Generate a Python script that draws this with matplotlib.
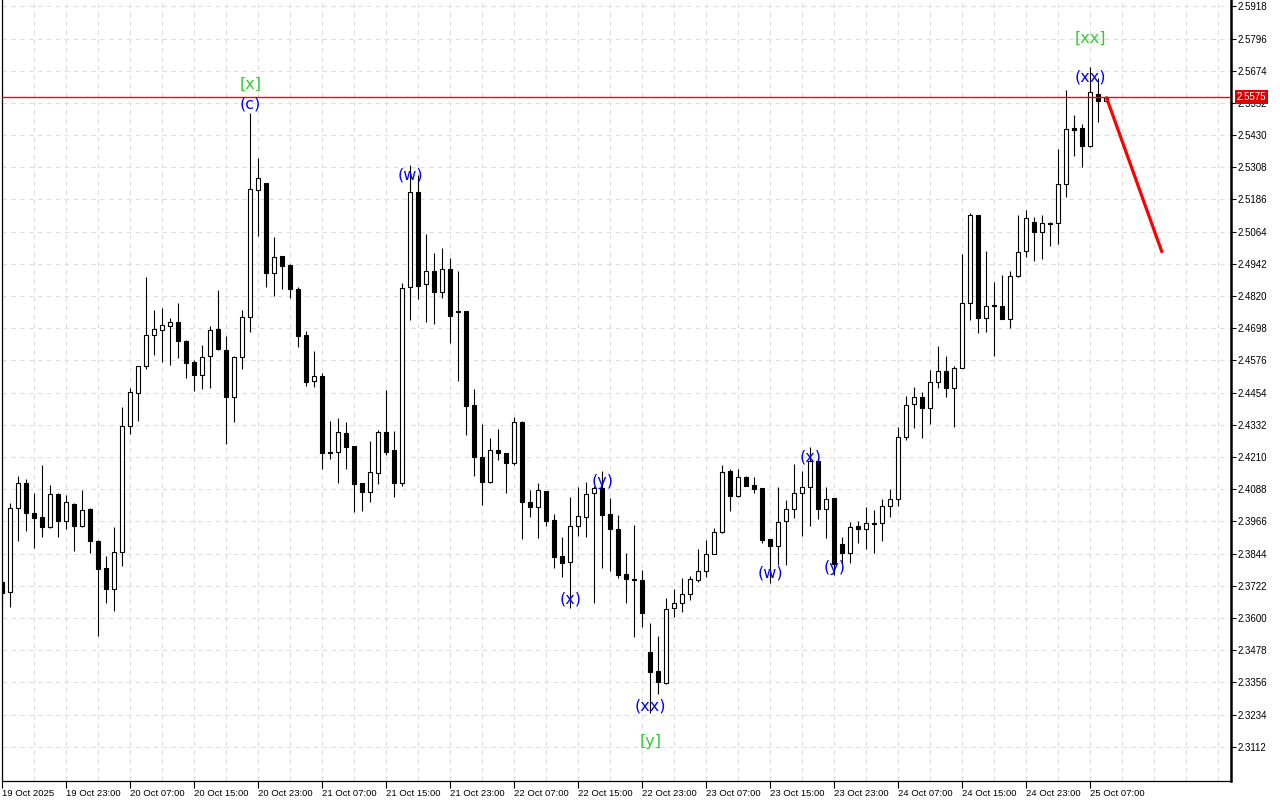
import matplotlib
matplotlib.use("Agg")
import matplotlib.pyplot as plt
import matplotlib.transforms as mtransforms

# dane świec H1
opens = [2.3736, 2.3698, 2.4017, 2.4111, 2.3998, 2.3983, 2.3945, 2.4070, 2.3967, 2.4032,
         2.3949, 2.4013, 2.3892, 2.3789, 2.3710, 2.3850, 2.4327, 2.4453, 2.4555, 2.4672,
         2.4691, 2.4706, 2.4722, 2.4650, 2.4570, 2.4521, 2.4593, 2.4695, 2.4615, 2.4437,
         2.4589, 2.4740, 2.5222, 2.5248, 2.4907, 2.4972, 2.4938, 2.4847, 2.4672, 2.4498,
         2.4517, 2.4230, 2.4229, 2.4301, 2.4252, 2.4111, 2.4077, 2.4149, 2.4305, 2.4237,
         2.4111, 2.4854, 2.5214, 2.4866, 2.4915, 2.4835, 2.4922, 2.4765, 2.4763, 2.4407,
         2.4210, 2.4115, 2.4237, 2.4225, 2.4187, 2.4343, 2.4039, 2.4020, 2.4081, 2.3971,
         2.3835, 2.3812, 2.3949, 2.3983, 2.4074, 2.4092, 2.3994, 2.3937, 2.3767, 2.3748,
         2.3744, 2.3471, 2.3399, 2.3353, 2.3638, 2.3657, 2.3691, 2.3744, 2.3778, 2.3842,
         2.3926, 2.4157, 2.4062, 2.4134, 2.4104, 2.4092, 2.3899, 2.3873, 2.3967, 2.4013,
         2.4074, 2.4096, 2.4195, 2.4013, 2.4055, 2.3880, 2.3846, 2.3949, 2.3937, 2.3960,
         2.3960, 2.4024, 2.4051, 2.4286, 2.4411, 2.4437, 2.4396, 2.4494, 2.4536, 2.4471,
         2.4547, 2.4794, 2.5127, 2.4737, 2.4786, 2.4782, 2.4733, 2.4896, 2.4991, 2.5101,
         2.5063, 2.5097, 2.5097, 2.5245, 2.5455, 2.5457, 2.5389, 2.5586, 2.5559]
highs = [2.3751, 2.4036, 2.4138, 2.4127, 2.4074, 2.4180, 2.4104, 2.4074, 2.4066, 2.4036,
         2.4085, 2.4017, 2.3896, 2.3835, 2.3945, 2.4399, 2.4471, 2.4556, 2.4892, 2.4767,
         2.4775, 2.4737, 2.4794, 2.4653, 2.4578, 2.4635, 2.4706, 2.4843, 2.4668, 2.4593,
         2.4767, 2.5514, 2.5343, 2.5248, 2.5044, 2.4972, 2.4941, 2.4854, 2.4687, 2.4612,
         2.4528, 2.4346, 2.4358, 2.4343, 2.4252, 2.4111, 2.4271, 2.4312, 2.4464, 2.4309,
         2.4869, 2.5317, 2.5279, 2.5055, 2.4983, 2.5002, 2.4964, 2.4915, 2.4763, 2.4468,
         2.4335, 2.4282, 2.4316, 2.4225, 2.4362, 2.4345, 2.4085, 2.4111, 2.4081, 2.3994,
         2.3907, 2.4058, 2.4096, 2.4115, 2.4100, 2.4157, 2.4055, 2.3990, 2.3846, 2.3952,
         2.3782, 2.3581, 2.3532, 2.3676, 2.3710, 2.3751, 2.3759, 2.3862, 2.3896, 2.3941,
         2.4180, 2.4164, 2.4164, 2.4138, 2.4134, 2.4092, 2.3899, 2.4096, 2.4047, 2.4183,
         2.4157, 2.4248, 2.4202, 2.4096, 2.4055, 2.3907, 2.3964, 2.3967, 2.4021, 2.4009,
         2.4051, 2.4089, 2.4324, 2.4441, 2.4475, 2.4456, 2.4540, 2.4631, 2.4593, 2.4555,
         2.4979, 2.5135, 2.5127, 2.4991, 2.4873, 2.4900, 2.4915, 2.5127, 2.5146, 2.5120,
         2.5127, 2.5101, 2.5377, 2.5601, 2.5506, 2.5472, 2.5688, 2.5646, 2.5578]
lows = [2.3649, 2.3641, 2.3892, 2.3930, 2.3865, 2.3907, 2.3941, 2.3907, 2.3937, 2.3854,
        2.3945, 2.3846, 2.3532, 2.3657, 2.3626, 2.3797, 2.4297, 2.4346, 2.4544, 2.4596,
        2.4570, 2.4559, 2.4585, 2.4509, 2.4460, 2.4468, 2.4471, 2.4615, 2.4259, 2.4343,
        2.4544, 2.4684, 2.5048, 2.4854, 2.4820, 2.4847, 2.4813, 2.4627, 2.4479, 2.4475,
        2.4165, 2.4202, 2.4111, 2.4165, 2.4002, 2.4005, 2.4039, 2.4108, 2.4218, 2.4058,
        2.4100, 2.4729, 2.4809, 2.4722, 2.4714, 2.4813, 2.4642, 2.4498, 2.4293, 2.4138,
        2.4028, 2.4111, 2.4199, 2.4074, 2.4180, 2.3899, 2.3983, 2.3903, 2.3949, 2.3789,
        2.3755, 2.3638, 2.3911, 2.3907, 2.3657, 2.3789, 2.3778, 2.3751, 2.3657, 2.3528,
        2.3566, 2.3240, 2.3312, 2.3350, 2.3604, 2.3623, 2.3668, 2.3736, 2.3755, 2.3842,
        2.3922, 2.4005, 2.4058, 2.4100, 2.4074, 2.3884, 2.3732, 2.3801, 2.3801, 2.3979,
        2.3911, 2.3949, 2.3975, 2.3903, 2.3763, 2.3808, 2.3808, 2.3884, 2.3862, 2.3846,
        2.3892, 2.3983, 2.4024, 2.4274, 2.4320, 2.4282, 2.4335, 2.4471, 2.4437, 2.4324,
        2.4547, 2.4729, 2.4680, 2.4684, 2.4593, 2.4733, 2.4699, 2.4892, 2.4968, 2.4953,
        2.4960, 2.5010, 2.5017, 2.5196, 2.5351, 2.5309, 2.5385, 2.5480, 2.5559]
closes = [2.3695, 2.4017, 2.4111, 2.3998, 2.3979, 2.3945, 2.4070, 2.3967, 2.4039, 2.3949,
          2.4009, 2.3892, 2.3786, 2.3710, 2.3850, 2.4327, 2.4456, 2.4555, 2.4672, 2.4695,
          2.4710, 2.4722, 2.4650, 2.4566, 2.4521, 2.4589, 2.4691, 2.4619, 2.4437, 2.4589,
          2.4740, 2.5226, 2.5267, 2.4907, 2.4968, 2.4934, 2.4847, 2.4669, 2.4494, 2.4517,
          2.4225, 2.4226, 2.4305, 2.4248, 2.4108, 2.4077, 2.4153, 2.4305, 2.4229, 2.4111,
          2.4850, 2.5214, 2.4858, 2.4915, 2.4835, 2.4922, 2.4744, 2.4761, 2.4403, 2.4210,
          2.4115, 2.4237, 2.4225, 2.4187, 2.4343, 2.4039, 2.4020, 2.4085, 2.3967, 2.3831,
          2.3808, 2.3949, 2.3986, 2.4070, 2.4092, 2.3990, 2.3937, 2.3763, 2.3748, 2.3744,
          2.3619, 2.3395, 2.3357, 2.3634, 2.3657, 2.3691, 2.3748, 2.3778, 2.3842, 2.3926,
          2.4153, 2.4062, 2.4134, 2.4100, 2.4089, 2.3896, 2.3873, 2.3964, 2.4013, 2.4074,
          2.4096, 2.4195, 2.4013, 2.4051, 2.3804, 2.3846, 2.3945, 2.3937, 2.3960, 2.3956,
          2.4024, 2.4051, 2.4286, 2.4407, 2.4437, 2.4396, 2.4494, 2.4536, 2.4471, 2.4547,
          2.4794, 2.5127, 2.4737, 2.4782, 2.4782, 2.4733, 2.4896, 2.4987, 2.5116, 2.5063,
          2.5097, 2.5093, 2.5245, 2.5453, 2.5451, 2.5389, 2.5593, 2.5559, 2.5575]

# etykiety osi czasu (co 8 świec)
time_labels = ["19 Oct 2025", "19 Oct 23:00", "20 Oct 07:00", "20 Oct 15:00",
               "20 Oct 23:00", "21 Oct 07:00", "21 Oct 15:00", "21 Oct 23:00",
               "22 Oct 07:00", "22 Oct 15:00", "22 Oct 23:00", "23 Oct 07:00",
               "23 Oct 15:00", "23 Oct 23:00", "24 Oct 07:00", "24 Oct 15:00",
               "24 Oct 23:00", "25 Oct 07:00"]
price_ticks = [2.5918, 2.5796, 2.5674, 2.5552, 2.5430, 2.5308, 2.5186, 2.5064,
               2.4942, 2.4820, 2.4698, 2.4576, 2.4454, 2.4332, 2.4210, 2.4088,
               2.3966, 2.3844, 2.3722, 2.3600, 2.3478, 2.3356, 2.3234, 2.3112]

# oznaczenia fal
wave_text = ["[x]", "(c)", "(w)", "(x)", "(y)", "(xx)", "[y]",
             "(w)", "(x)", "(y)", "(xx)", "[xx]"]
wave_bar = [31, 31, 51, 71, 75, 81, 81, 96, 101, 104, 136, 136]
wave_price = [2.5624, 2.5548, 2.5279, 2.3672, 2.4119, 2.3266, 2.3130,
              2.3770, 2.4210, 2.3793, 2.5650, 2.5798]

last_price = 2.5575
forecast_x = [138, 145]
forecast_y = [2.5575, 2.4984]


def main():
    plt.rcParams["font.family"] = ["Liberation Sans", "DejaVu Sans"]

    fig = plt.figure(figsize=(12.8, 8), dpi=100)
    ax = fig.add_axes([2 / 1280, 19 / 800, 1229 / 1280, 781 / 800])
    ax.set_xlim(-0.04, 153.6)
    ax.set_ylim(2.2982, 2.5942)

    # siatka
    for gx in range(0, 156, 4):
        ax.axvline(gx, color="#dedede", lw=0.8, ls=(0, (4, 4)), zorder=0)
    for gy in price_ticks:
        ax.axhline(gy, color="#dedede", lw=0.8, ls=(0, (4, 4)), zorder=0)

    # świece
    n = len(opens)
    xs = list(range(n))
    ax.vlines(xs, lows, highs, color="black", lw=0.8, zorder=2)
    bottoms = [min(o, c) for o, c in zip(opens, closes)]
    heights = [max(abs(c - o), 0.00005) for o, c in zip(opens, closes)]
    fills = ["white" if c > o else "black" for o, c in zip(opens, closes)]
    ax.bar(xs, heights, bottom=bottoms, width=0.5, color=fills,
           edgecolor="black", linewidth=0.8, zorder=3)

    # linia ceny i prognoza
    ax.axhline(last_price, color="#ff0000", lw=1.0, zorder=4)
    ax.plot(forecast_x, forecast_y, color="#ff0000", lw=2.3,
            solid_capstyle="butt", zorder=5)

    for t, b, p in zip(wave_text, wave_bar, wave_price):
        col = "#32cd32" if t.startswith("[") else "#0000ff"
        ax.text(b, p, t, color=col, fontsize=11.5, family="DejaVu Sans",
                ha="center", va="center", zorder=6)

    # osie
    ax.spines["top"].set_visible(False)
    ax.spines["right"].set_linewidth(1.8)
    ax.spines["left"].set_linewidth(0.9)
    ax.spines["bottom"].set_linewidth(0.9)

    ax.yaxis.tick_right()
    ax.set_yticks(price_ticks)
    ax.set_yticklabels([f"{v:.4f}" for v in price_ticks])
    ax.tick_params(axis="y", direction="out", length=3.5, width=0.8,
                   pad=1, labelsize=7)

    ax.set_xticks([8 * i for i in range(len(time_labels))])
    ax.set_xticklabels(time_labels)
    ax.tick_params(axis="x", direction="out", length=5, width=0.8,
                   pad=1, labelsize=6.8)
    for lab in ax.get_xticklabels():
        lab.set_horizontalalignment("left")

    # etykieta bieżącej ceny
    trans = mtransforms.blended_transform_factory(ax.transAxes, ax.transData)
    ax.text(1.0045, last_price, f"{last_price:.4f}", transform=trans,
            color="white", fontsize=7, ha="left", va="center", clip_on=False,
            bbox=dict(boxstyle="square,pad=0.18", fc="#dd0000", ec="none"),
            zorder=10)

    fig.savefig("out.png", dpi=100)
    plt.close(fig)


if __name__ == "__main__":
    main()
